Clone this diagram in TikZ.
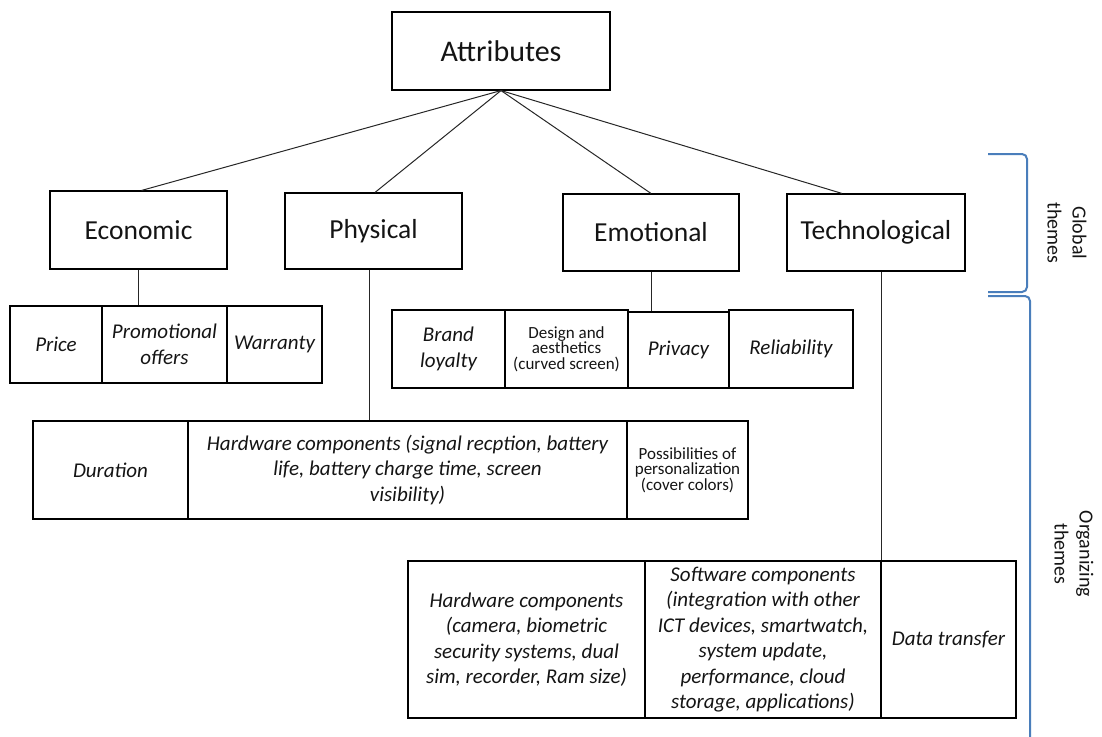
\documentclass[tikz,border=0pt]{standalone}
\usepackage{fontspec}
\setmainfont{Carlito}
\usetikzlibrary{calc}
\definecolor{bracketblue}{RGB}{74,126,187}
\definecolor{ink}{RGB}{20,20,20}
\begin{document}
\begin{tikzpicture}[x=1pt,y=-1pt,
  box/.style={draw=black, line width=1.1pt, inner sep=1pt, align=center,
    text=ink, font=\fontsize{21}{25.5}\selectfont\itshape},
  theme/.style={box, font=\fontsize{27.5}{31}\selectfont},
  small/.style={box, font=\fontsize{17}{15.5}\selectfont},
  link/.style={draw=black!85, line width=1pt},
  brace/.style={draw=bracketblue, line width=2pt, rounded corners=5pt},
  side/.style={text=ink, align=center, rotate=-90, font=\fontsize{20}{25}\selectfont}]
\useasboundingbox (0,0) rectangle (1102,736);

% root
\node[theme, minimum width=218pt, minimum height=78pt, font=\fontsize{30}{34}\selectfont] (attr) at (501,51) {Attributes};

% global themes
\node[theme, minimum width=177pt, minimum height=78pt] (econ) at (138.5,230) {Economic};
\node[theme, minimum width=177pt, minimum height=76pt] (phys) at (373.5,231) {Physical};
\node[theme, minimum width=176pt, minimum height=77pt] (emo)  at (651,232.5) {Emotional};
\node[theme, minimum width=178pt, minimum height=77pt] (tech) at (876,232.5) {Technological};

% economic
\node[box, minimum width=92pt,  minimum height=77pt] (price) at (56,344.5) {Price};
\node[box, minimum width=125pt, minimum height=77pt] (promo) at (164.5,344.5) {Promotional\\offers};
\node[box, minimum width=95pt,  minimum height=77pt] (warr)  at (274.5,344.5) {Warranty};

% emotional
\node[box,   minimum width=113pt, minimum height=78pt] (brand)  at (448.5,349) {Brand\\loyalty};
\node[small, minimum width=123pt, minimum height=78pt] (design) at (566.5,349) {Design and\\aesthetics\\(curved screen)};
\node[box,   minimum width=101pt, minimum height=76pt] (priv)   at (678.5,350) {Privacy};
\node[box,   minimum width=124pt, minimum height=78pt] (rel)    at (791,349) {Reliability};

% physical
\node[box,   minimum width=155pt, minimum height=98pt] (dur)   at (110.5,470) {Duration};
\node[box,   minimum width=439pt, minimum height=98pt] (hwph)  at (407.5,470) {Hardware components (signal recption, battery\\life, battery charge time, screen\\visibility)};
\node[small, minimum width=121pt, minimum height=98pt] (perso) at (687.5,470) {Possibilities of\\personalization\\(cover colors)};

% technological
\node[box, minimum width=237pt, minimum height=157pt] (hwte) at (526.5,639.5) {Hardware components\\(camera, biometric\\security systems, dual\\sim, recorder, Ram size)};
\node[box, minimum width=236pt, minimum height=157pt] (soft) at (763,639.5) {Software components\\(integration with other\\ICT devices, smartwatch,\\system update,\\performance, cloud\\storage, applications)};
\node[box, minimum width=135pt, minimum height=157pt] (data) at (948.5,639.5) {Data transfer};

% root to global themes
\draw[link] (attr.south) -- ([xshift=3pt]econ.north);
\draw[link] (attr.south) -- ([xshift=1.5pt]phys.north);
\draw[link] (attr.south) -- (emo.north);
\draw[link] (attr.south) -- ([xshift=-34pt]tech.north);

% global themes to organizing themes
\draw[link] (econ.south) -- (econ.south |- promo.north);
\draw[link] ([xshift=-4pt]phys.south) -- ([xshift=-4pt]phys.south |- hwph.north);
\draw[link] (emo.south) -- (emo.south |- priv.north);
\draw[link] ([xshift=5pt]tech.south) -- ([xshift=5pt]tech.south |- data.north);

% brackets and their labels
\coordinate (g1) at (988,154);
\coordinate (g2) at (1027,154);
\coordinate (g3) at (1027,292);
\coordinate (g4) at (988,292);
\draw[brace] (g1) -- (g2) -- (g3) -- (g4);
\coordinate (o1) at (988,296);
\coordinate (o2) at (1030,296);
\coordinate (o3) at (1030,745);
\draw[brace] (o1) -- (o2) -- (o3);
\node[side] (glob) at (1067,233) {Global\\themes};
\node[side] (orga) at (1074,554) {Organizing\\themes};
\end{tikzpicture}
\end{document}
